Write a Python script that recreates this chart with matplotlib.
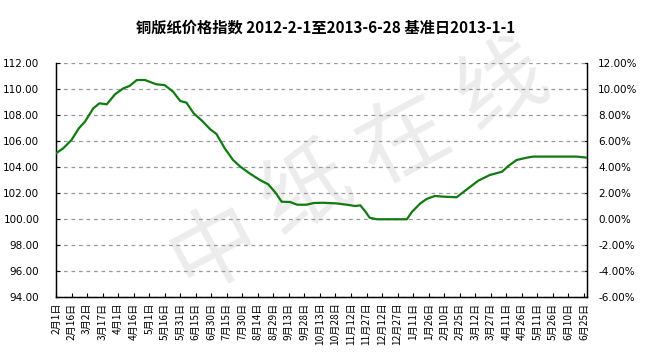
import matplotlib
matplotlib.use("Agg")
import matplotlib.pyplot as plt
import pandas as pd

plt.rcParams['font.family'] = ['Noto Sans CJK SC', 'DejaVu Sans']

title = "铜版纸价格指数 2012-2-1至2013-6-28 基准日2013-1-1"

dates = ["2012-02-01", "2012-02-08", "2012-02-16", "2012-02-23", "2012-02-29",
         "2012-03-08", "2012-03-14", "2012-03-21", "2012-03-29", "2012-04-06",
         "2012-04-12", "2012-04-19", "2012-04-27", "2012-05-08", "2012-05-16",
         "2012-05-24", "2012-05-31", "2012-06-06", "2012-06-13", "2012-06-21",
         "2012-06-29", "2012-07-05", "2012-07-13", "2012-07-21", "2012-07-28",
         "2012-08-06", "2012-08-16", "2012-08-24", "2012-08-31", "2012-09-06",
         "2012-09-14", "2012-09-21", "2012-09-30", "2012-10-07", "2012-10-16",
         "2012-10-29", "2012-11-08", "2012-11-16", "2012-11-21", "2012-11-26",
         "2012-11-30", "2012-12-07", "2012-12-20", "2013-01-05", "2013-01-10",
         "2013-01-18", "2013-01-24", "2013-02-01", "2013-02-09", "2013-02-22",
         "2013-03-04", "2013-03-15", "2013-03-26", "2013-04-07", "2013-04-13",
         "2013-04-21", "2013-05-01", "2013-05-07", "2013-05-23", "2013-06-18",
         "2013-06-28"]
index_values = [105.05, 105.44, 106.08, 106.97, 107.49,
                108.51, 108.90, 108.82, 109.59, 110.05,
                110.23, 110.69, 110.69, 110.36, 110.30,
                109.80, 109.08, 108.95, 108.13, 107.56,
                106.90, 106.54, 105.44, 104.54, 104.03,
                103.51, 103.00, 102.67, 102.03, 101.33,
                101.31, 101.10, 101.10, 101.23, 101.25,
                101.20, 101.10, 101.00, 101.05, 100.56,
                100.10, 99.98, 99.98, 99.98, 100.56,
                101.20, 101.54, 101.77, 101.72, 101.67,
                102.28, 102.95, 103.38, 103.64, 104.08,
                104.54, 104.72, 104.80, 104.80, 104.80,
                104.72]

left_ticks = [94, 96, 98, 100, 102, 104, 106, 108, 110, 112]
right_ticks = [-6, -4, -2, 0, 2, 4, 6, 8, 10, 12]

x = pd.to_datetime(dates)

fig = plt.figure(figsize=(6.52, 3.62), dpi=100)
fig.patch.set_facecolor('white')

# watermark (behind everything)
wm = ["中", "纸", "在", "线"]
wm_pos = [(0.33, 0.31), (0.47, 0.47), (0.62, 0.61), (0.77, 0.76)]
for ch, (px, py) in zip(wm, wm_pos):
    fig.text(px, py, ch, fontsize=64, color='#ececec', rotation=28,
             ha='center', va='center', zorder=-5)

ax = fig.add_axes([56/652, 65/362, 531/652, 234/362])
ax.set_zorder(2)
ax.set_facecolor('none')
ax.plot(x, index_values, color='#117a11', lw=1.6, zorder=3)

ax.set_ylim(94, 112)
ax.set_yticks(left_ticks)
ax.set_yticklabels([f"{v:.2f}" for v in left_ticks], fontsize=7.5,
                   family='DejaVu Sans')
ax.set_xlim(pd.Timestamp("2012-02-01"), pd.Timestamp("2013-06-28"))
ticks = pd.date_range("2012-02-01", "2013-06-28", freq="15D")
ax.set_xticks(ticks)
ax.set_xticklabels([f"{d.month}月{d.day}日" for d in ticks], rotation=90,
                   fontsize=7.3)
ax.grid(axis='y', linestyle=(0, (3, 3)), color='#9a9a9a', lw=0.9)
ax.tick_params(axis='both', direction='in', length=3, color='black', pad=4)
ax.tick_params(axis='y', pad=12)
ax.spines['top'].set_visible(False)
for s in ['left', 'right', 'bottom']:
    ax.spines[s].set_color('black')
    ax.spines[s].set_linewidth(1)

ax2 = ax.twinx()
ax2.set_zorder(1)
ax2.set_ylim(-6, 12)
ax2.set_yticks(right_ticks)
ax2.set_yticklabels([f"{v:.2f}%" for v in right_ticks], fontsize=7.5,
                    family='DejaVu Sans')
ax2.tick_params(axis='y', direction='in', length=3, pad=8)
ax2.spines['top'].set_visible(False)

fig.text(0.5, 0.925, title, ha='center', va='center', fontsize=11,
         fontweight='bold')

fig.savefig("out.png", dpi=100)
